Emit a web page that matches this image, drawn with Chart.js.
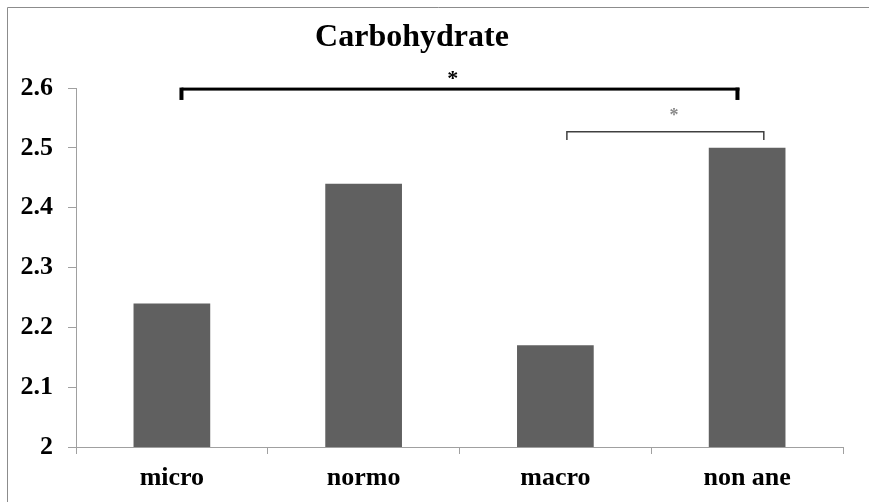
<!DOCTYPE html>
<html>
<head>
<meta charset="utf-8">
<script src="https://cdn.jsdelivr.net/npm/chart.js@4.4.1/dist/chart.umd.min.js"></script>
<style>
  html, body { margin: 0; padding: 0; background: #fff; overflow: hidden; }
  #trafficChart { display: block; }
</style>
</head>
<body>
<canvas id="trafficChart" width="869" height="502"></canvas>
<script>
// data
const categories = ['micro', 'normo', 'macro', 'non ane'];
const carbValues = [2.24, 2.44, 2.17, 2.50];
const yMin = 2, yMax = 2.6, yStep = 0.1;

// significance brackets (category index / value units)
const brackets = [
  { from: 0.05, to: 2.96, y: 2.599, leg: 2.58, star: '*', starX: 1.465, starY: 2.622, heavy: true },
  { from: 2.06, to: 3.087, y: 2.527, leg: 2.513, star: '*', starX: 2.618, starY: 2.56, heavy: false }
];

const serif = "'Liberation Serif', 'Times New Roman', serif";

// outer frame (only left and top edges are inside the picture)
const frame = {
  id: 'frame',
  beforeDraw(chart) {
    const c = chart.ctx;
    c.save();
    c.strokeStyle = '#8c8c8c';
    c.lineWidth = 1;
    c.beginPath();
    c.moveTo(7.5, chart.height);
    c.lineTo(7.5, 7.5);
    c.lineTo(chart.width, 7.5);
    c.stroke();
    c.restore();
  }
};

// title + brackets drawn on top
const extras = {
  id: 'extras',
  afterDraw(chart) {
    const c = chart.ctx;
    const xs = chart.scales.x, ys = chart.scales.y;
    const x0 = xs.getPixelForValue(0);
    const step = xs.getPixelForValue(1) - x0;
    const px = i => x0 + i * step;

    c.save();
    c.fillStyle = '#000';
    c.font = 'bold 32px ' + serif;
    c.textAlign = 'center';
    c.textBaseline = 'alphabetic';
    c.fillText('Carbohydrate', 412, 46);

    brackets.forEach(b => {
      const l = px(b.from), r = px(b.to);
      const yT = ys.getPixelForValue(b.y), yB = ys.getPixelForValue(b.leg);
      if (b.heavy) {
        c.fillStyle = '#000';
        c.fillRect(l, yT - 1, r - l, 3);
        c.fillRect(l - 2, yT - 1, 4, yB - yT + 1);
        c.fillRect(r - 4, yT - 1, 4, yB - yT + 1);
        c.font = 'bold 22px ' + serif;
        c.textAlign = 'center';
        c.textBaseline = 'middle';
        c.fillText(b.star, px(b.starX), ys.getPixelForValue(b.starY) + 4);
      } else {
        c.strokeStyle = '#404040';
        c.lineWidth = 1.5;
        c.beginPath();
        c.moveTo(l, yB);
        c.lineTo(l, yT);
        c.lineTo(r, yT);
        c.lineTo(r, yB);
        c.stroke();
        c.fillStyle = '#8a8a8a';
        c.font = 'bold 18px ' + serif;
        c.textAlign = 'center';
        c.textBaseline = 'middle';
        c.fillText(b.star, px(b.starX), ys.getPixelForValue(b.starY) + 4);
      }
    });
    c.restore();
  }
};

const ctx = document.getElementById('trafficChart').getContext('2d');
const chart = new Chart(ctx, {
  type: 'bar',
  data: {
    labels: categories,
    datasets: [{
      data: carbValues,
      backgroundColor: '#606060',
      borderWidth: 0,
      categoryPercentage: 1,
      barPercentage: 0.4
    }]
  },
  options: {
    responsive: false,
    animation: false,
    layout: { padding: { left: 0, right: 26, top: 88, bottom: 0 } },
    plugins: {
      legend: { display: false },
      tooltip: { enabled: false }
    },
    scales: {
      x: {
        afterFit: s => { s.height = 55; },
        grid: { display: true, drawOnChartArea: false, drawTicks: true, tickLength: 7, color: '#a0a0a0', offset: true },
        border: { display: true, color: '#a0a0a0', width: 1 },
        ticks: { color: '#000', padding: 9, font: { family: serif, size: 26, weight: 'bold' } }
      },
      y: {
        min: yMin,
        max: yMax,
        afterFit: s => { s.width = 76; },
        grid: { display: true, drawOnChartArea: false, drawTicks: true, tickLength: 8, color: '#a0a0a0' },
        border: { display: true, color: '#a0a0a0', width: 1 },
        ticks: {
          stepSize: yStep,
          color: '#000',
          padding: 15,
          font: { family: serif, size: 26, weight: 'bold' },
          callback: v => String(Number(v.toFixed(1)))
        }
      }
    }
  },
  plugins: [frame, extras]
});
</script>
</body>
</html>
